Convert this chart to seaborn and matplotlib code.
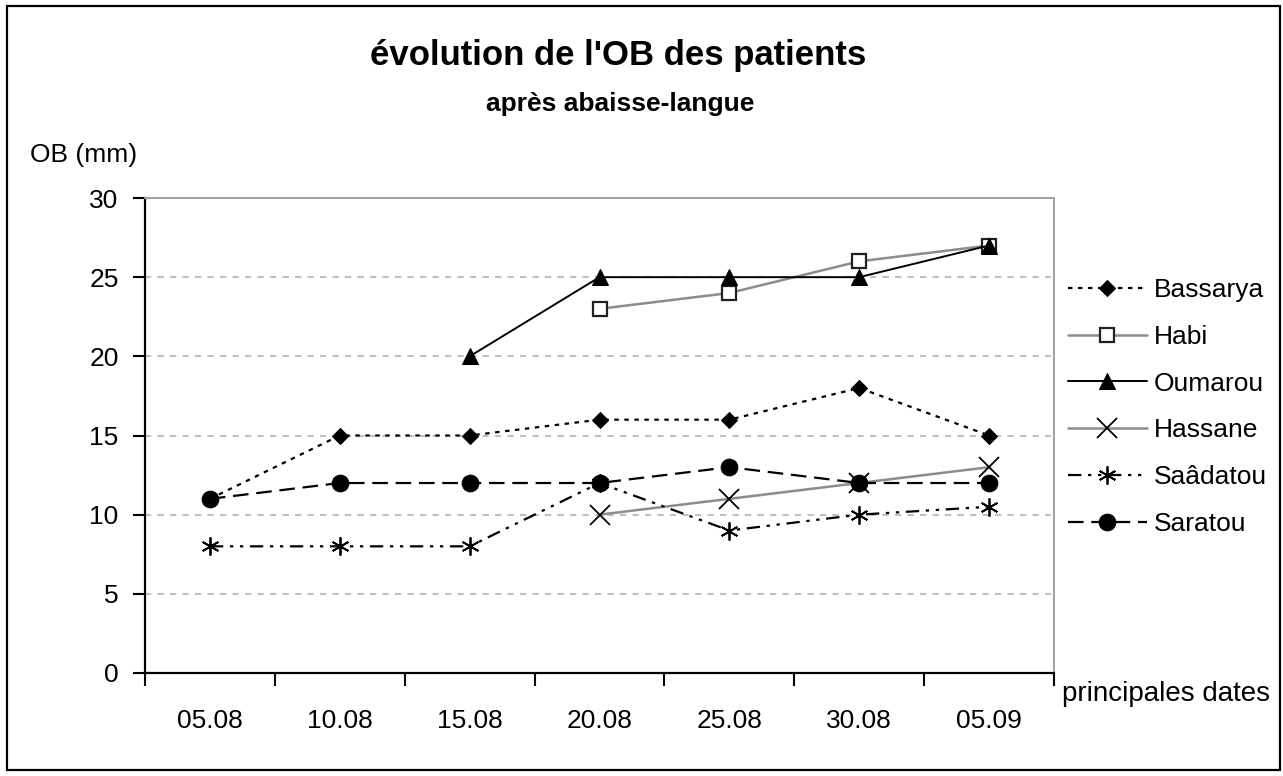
import numpy as np
import matplotlib
matplotlib.use("Agg")
import matplotlib.pyplot as plt
from matplotlib.patches import Rectangle
import seaborn as sns

dates = ["05.08", "10.08", "15.08", "20.08", "25.08", "30.08", "05.09"]
bassarya = [11, 15, 15, 16, 16, 18, 15]
habi = [np.nan, np.nan, np.nan, 23, 24, 26, 27]
oumarou = [np.nan, np.nan, 20, 25, 25, 25, 27]
hassane = [np.nan, np.nan, np.nan, 10, 11, 12, 13]
saadatou = [8, 8, 8, 12, 9, 10, 10.5]
saratou = [11, 12, 12, 12, 13, 12, 12]

sns.set_theme(style="white")
plt.rcParams["font.family"] = ["Liberation Sans", "DejaVu Sans"]
plt.rcParams["text.color"] = "black"
plt.rcParams["xtick.color"] = "black"
plt.rcParams["ytick.color"] = "black"

fig = plt.figure(figsize=(12.83, 7.76), dpi=100)
ax = fig.add_axes([145 / 1283, 1 - 673 / 776, (1054 - 145) / 1283, (673 - 198) / 776])

x = np.arange(len(dates))
series = [
    ("Bassarya", bassarya, dict(color="black", marker="D", markersize=8, mfc="black", mec="black",
                                dashes=(2, 2.5), lw=1.6)),
    ("Habi", habi, dict(color="#8c8c8c", marker="s", markersize=10, mfc="white", mec="#202020",
                        mew=1.6, lw=1.8)),
    ("Oumarou", oumarou, dict(color="black", marker="^", markersize=11, mfc="black", mec="black", lw=1.4)),
    ("Hassane", hassane, dict(color="#8c8c8c", marker="x", markersize=14, mfc="none", mec="black",
                              mew=1.3, lw=1.8)),
    ("Saâdatou", saadatou, dict(color="black", marker=(6, 2, 0), markersize=13, mec="black", mew=1.3,
                                dashes=(6, 3, 1.5, 3, 1.5, 3), lw=1.6)),
    ("Saratou", saratou, dict(color="black", marker="o", markersize=12, mfc="black", mec="black",
                              dashes=(7, 3.5), lw=1.6)),
]

for name, vals, style in series:
    vals = np.array(vals, dtype=float)
    ok = ~np.isnan(vals)
    sns.lineplot(x=x[ok], y=vals[ok], ax=ax, label=name, sort=False, **style)

ax.set_xlim(-0.5, len(dates) - 0.5)
ax.set_ylim(0, 30)
ax.set_yticks(range(0, 31, 5))
ax.set_xticks(x)
ax.set_xticklabels(dates)
ax.set_xticks(np.arange(-0.5, len(dates), 1), minor=True)
ax.tick_params(axis="x", which="major", length=0, pad=26, labelsize=19)
ax.tick_params(axis="x", which="minor", length=9, width=1.5, color="black", direction="out", bottom=True)
ax.tick_params(axis="y", length=9, width=1.5, color="black", direction="out", left=True, labelsize=19, pad=10)
ax.yaxis.grid(True, color="#c0c0c0", linestyle=(0, (3, 3)), lw=1.5)
ax.xaxis.grid(False)
ax.set_xlabel("")
ax.set_ylabel("")

for side in ["left", "bottom"]:
    ax.spines[side].set_color("black")
    ax.spines[side].set_linewidth(1.6)
for side in ["top", "right"]:
    ax.spines[side].set_color("#a0a0a0")
    ax.spines[side].set_linewidth(1.4)

ax.legend(loc="upper left", bbox_to_anchor=(1.015, 0.831), frameon=False, fontsize=19,
          handlelength=3.0, labelspacing=0.86, handletextpad=0.25, borderaxespad=0, borderpad=0)

fig.text(618 / 1283, 1 - 55 / 776, "évolution de l'OB des patients", ha="center", va="center",
         fontsize=25, fontweight="bold")
fig.text(620 / 1283, 1 - 104 / 776, "après abaisse-langue", ha="center", va="center",
         fontsize=19, fontweight="bold")
fig.text(84 / 1283, 1 - 155 / 776, "OB (mm)", ha="center", va="center", fontsize=19)
fig.text(1166 / 1283, 1 - 694 / 776, "principales dates", ha="center", va="center", fontsize=20)

fig.patches.append(Rectangle((7 / 1283, 1 - 770 / 776), 1273 / 1283, 764 / 776, transform=fig.transFigure,
                             fill=False, edgecolor="black", lw=1.6))

fig.savefig("out.png", dpi=100)
